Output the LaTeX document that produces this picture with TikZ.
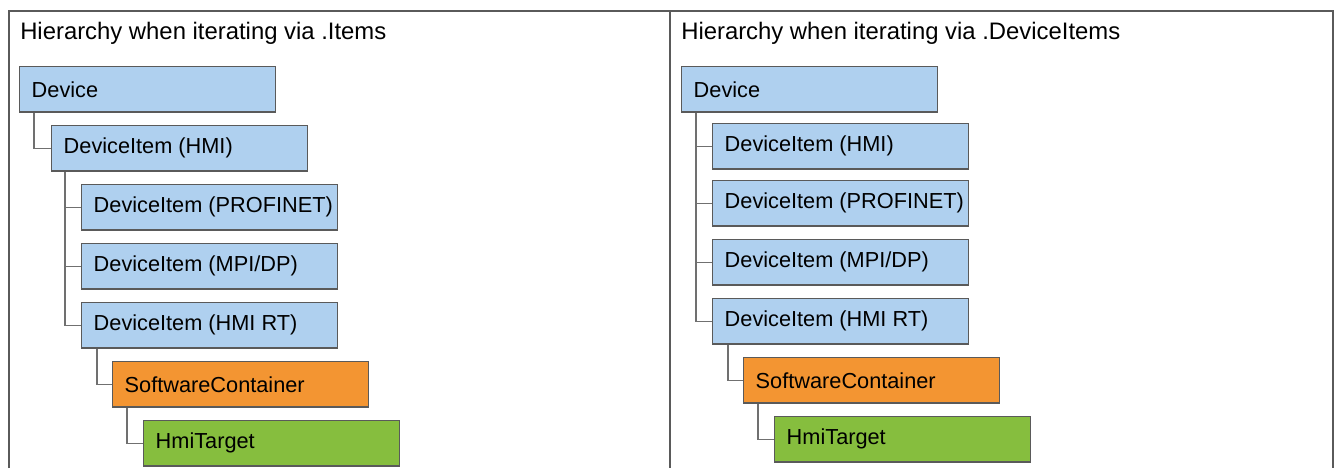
\documentclass[tikz,border=0pt]{standalone}
\usepackage{fontspec}
\setmainfont{Liberation Sans}
\usetikzlibrary{calc}
\definecolor{boxblue}{HTML}{AFD0EF}
\definecolor{boxorange}{HTML}{F39532}
\definecolor{boxgreen}{HTML}{86BE3E}
\definecolor{edgegray}{HTML}{5A5A5A}
\definecolor{linkgray}{HTML}{707070}
\newcommand{\boxtext}[1]{\makebox[174pt][l]{#1}}
\tikzset{
  hbox/.style={draw=edgegray, line width=1.1pt, anchor=north west, rectangle,
    inner xsep=9pt, inner ysep=0pt, minimum height=33.9pt, minimum width=192pt,
    font=\fontsize{16.3}{18}\selectfont, text=black},
  blu/.style={hbox, fill=boxblue},
  org/.style={hbox, fill=boxorange},
  grn/.style={hbox, fill=boxgreen},
  link/.style={draw=linkgray, line width=1.1pt},
  title/.style={anchor=west, inner sep=0pt, font=\fontsize{17.9}{20}\selectfont}
}
\begin{document}
\begin{tikzpicture}[x=0.75pt, y=-0.75pt]
\useasboundingbox (0,0) rectangle (1338,468);
\draw[edgegray, line width=1.1pt] (9,468) -- (9,11) -- (1333,11) -- (1333,468);
\draw[edgegray, line width=1.1pt] (670,11) -- (670,468);
\node[title] (t1) at (20,33) {Hierarchy when iterating via .Items};
\node[title] (t2) at (681,33) {Hierarchy when iterating via .DeviceItems};
% left
\node[blu] (ldev) at (19,66) {\boxtext{Device}};
\node[blu] (lhmi) at (51,125) {\boxtext{DeviceItem (HMI)}};
\node[blu] (lpn) at (81,184) {\boxtext{DeviceItem (PROFINET)}};
\node[blu] (lmpi) at (81,243) {\boxtext{DeviceItem (MPI/DP)}};
\node[blu] (lrt) at (81,302) {\boxtext{DeviceItem (HMI RT)}};
\node[org] (lsc) at (112,361) {\boxtext{SoftwareContainer}};
\node[grn] (lht) at (143,420) {\boxtext{HmiTarget}};
\draw[link] ([xshift=11.25pt]ldev.south west) |- (lhmi.west);
\draw[link] ([xshift=10.5pt]lhmi.south west) |- (lpn.west);
\draw[link] ([xshift=10.5pt]lhmi.south west) |- (lmpi.west);
\draw[link] ([xshift=10.5pt]lhmi.south west) |- (lrt.west);
\draw[link] ([xshift=12pt]lrt.south west) |- (lsc.west);
\draw[link] ([xshift=11.25pt]lsc.south west) |- (lht.west);
% right
\node[blu] (rdev) at (681,66) {\boxtext{Device}};
\node[blu] (rhmi) at (712,123) {\boxtext{DeviceItem (HMI)}};
\node[blu] (rpn) at (712,180) {\boxtext{DeviceItem (PROFINET)}};
\node[blu] (rmpi) at (712,239) {\boxtext{DeviceItem (MPI/DP)}};
\node[blu] (rrt) at (712,298) {\boxtext{DeviceItem (HMI RT)}};
\node[org] (rsc) at (743,357) {\boxtext{SoftwareContainer}};
\node[grn] (rht) at (774,416) {\boxtext{HmiTarget}};
\draw[link] ([xshift=11.25pt]rdev.south west) |- (rhmi.west);
\draw[link] ([xshift=11.25pt]rdev.south west) |- (rpn.west);
\draw[link] ([xshift=11.25pt]rdev.south west) |- (rmpi.west);
\draw[link] ([xshift=11.25pt]rdev.south west) |- (rrt.west);
\draw[link] ([xshift=12pt]rrt.south west) |- (rsc.west);
\draw[link] ([xshift=11.25pt]rsc.south west) |- (rht.west);
\end{tikzpicture}
\end{document}
